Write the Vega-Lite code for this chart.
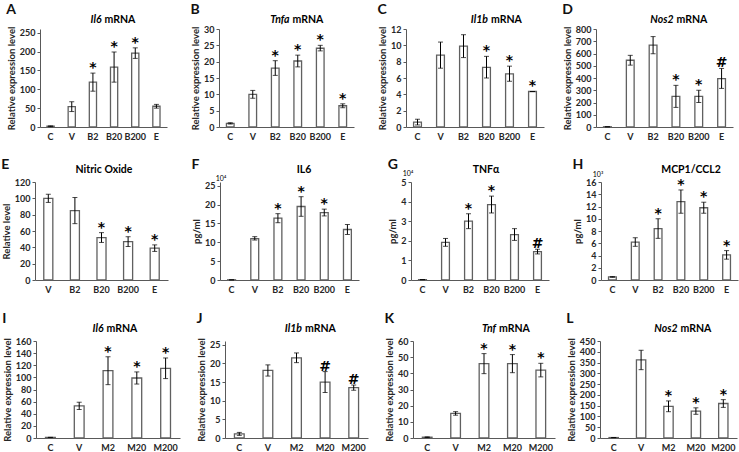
{
  "$schema": "https://vega.github.io/schema/vega-lite/v6.json",
  "padding": {"left": 1, "top": 3, "right": 1, "bottom": 1},
  "datasets": {
    "d": [
      {"p":"A","c":"C","v":2,"lo":1,"hi":3,"s":""},
      {"p":"A","c":"V","v":54,"lo":41,"hi":67,"s":""},
      {"p":"A","c":"B2","v":119,"lo":95,"hi":143,"s":"*"},
      {"p":"A","c":"B20","v":159,"lo":119,"hi":199,"s":"*"},
      {"p":"A","c":"B200","v":196,"lo":182,"hi":210,"s":"*"},
      {"p":"A","c":"E","v":55,"lo":50,"hi":60,"s":""},
      {"p":"B","c":"C","v":1.1,"lo":0.9,"hi":1.3,"s":""},
      {"p":"B","c":"V","v":10,"lo":8.8,"hi":11.2,"s":""},
      {"p":"B","c":"B2","v":18,"lo":15.8,"hi":20.3,"s":"*"},
      {"p":"B","c":"B20","v":20.2,"lo":18.4,"hi":22,"s":"*"},
      {"p":"B","c":"B200","v":24.1,"lo":23.3,"hi":25,"s":"*"},
      {"p":"B","c":"E","v":6.5,"lo":5.9,"hi":7.1,"s":"*"},
      {"p":"C","c":"C","v":0.6,"lo":0.25,"hi":0.95,"s":""},
      {"p":"C","c":"V","v":8.8,"lo":7.2,"hi":10.4,"s":""},
      {"p":"C","c":"B2","v":9.9,"lo":8.5,"hi":11.3,"s":""},
      {"p":"C","c":"B20","v":7.3,"lo":6.0,"hi":8.65,"s":"*"},
      {"p":"C","c":"B200","v":6.5,"lo":5.6,"hi":7.45,"s":"*"},
      {"p":"C","c":"E","v":4.35,"lo":4.35,"hi":4.35,"s":"*"},
      {"p":"D","c":"C","v":2,"lo":2,"hi":2,"s":""},
      {"p":"D","c":"V","v":545,"lo":505,"hi":585,"s":""},
      {"p":"D","c":"B2","v":668,"lo":598,"hi":738,"s":""},
      {"p":"D","c":"B20","v":250,"lo":160,"hi":340,"s":"*"},
      {"p":"D","c":"B200","v":250,"lo":200,"hi":300,"s":"*"},
      {"p":"D","c":"E","v":395,"lo":315,"hi":478,"s":"#"},
      {"p":"E","c":"V","v":100,"lo":95,"hi":105,"s":""},
      {"p":"E","c":"B2","v":85,"lo":69,"hi":101,"s":""},
      {"p":"E","c":"B20","v":52,"lo":46,"hi":58,"s":"*"},
      {"p":"E","c":"B200","v":47,"lo":41,"hi":53,"s":"*"},
      {"p":"E","c":"E","v":39,"lo":35,"hi":43,"s":"*"},
      {"p":"F","c":"C","v":0.05,"lo":0.05,"hi":0.05,"s":""},
      {"p":"F","c":"V","v":11,"lo":10.6,"hi":11.5,"s":""},
      {"p":"F","c":"B2","v":16.4,"lo":15.2,"hi":17.6,"s":"*"},
      {"p":"F","c":"B20","v":19.5,"lo":16.9,"hi":22.1,"s":"*"},
      {"p":"F","c":"B200","v":17.9,"lo":17.0,"hi":18.8,"s":"*"},
      {"p":"F","c":"E","v":13.4,"lo":12.1,"hi":14.7,"s":""},
      {"p":"G","c":"C","v":0.02,"lo":0.02,"hi":0.02,"s":""},
      {"p":"G","c":"V","v":1.92,"lo":1.72,"hi":2.12,"s":""},
      {"p":"G","c":"B2","v":3.0,"lo":2.62,"hi":3.38,"s":"*"},
      {"p":"G","c":"B20","v":3.85,"lo":3.42,"hi":4.28,"s":"*"},
      {"p":"G","c":"B200","v":2.32,"lo":2.02,"hi":2.62,"s":""},
      {"p":"G","c":"E","v":1.45,"lo":1.33,"hi":1.57,"s":"#"},
      {"p":"H","c":"C","v":0.5,"lo":0.45,"hi":0.55,"s":""},
      {"p":"H","c":"V","v":6.2,"lo":5.5,"hi":6.9,"s":""},
      {"p":"H","c":"B2","v":8.4,"lo":6.8,"hi":10.0,"s":"*"},
      {"p":"H","c":"B20","v":12.8,"lo":10.9,"hi":14.7,"s":"*"},
      {"p":"H","c":"B200","v":11.8,"lo":10.9,"hi":12.7,"s":"*"},
      {"p":"H","c":"E","v":4.1,"lo":3.4,"hi":4.8,"s":"*"},
      {"p":"I","c":"C","v":1,"lo":1,"hi":1,"s":""},
      {"p":"I","c":"V","v":53,"lo":47,"hi":59,"s":""},
      {"p":"I","c":"M2","v":111,"lo":88,"hi":134,"s":"*"},
      {"p":"I","c":"M20","v":99,"lo":89,"hi":109,"s":"*"},
      {"p":"I","c":"M200","v":115,"lo":98,"hi":132,"s":"*"},
      {"p":"J","c":"C","v":1.1,"lo":0.7,"hi":1.5,"s":""},
      {"p":"J","c":"V","v":18.1,"lo":16.6,"hi":19.6,"s":""},
      {"p":"J","c":"M2","v":21.5,"lo":20.2,"hi":22.8,"s":""},
      {"p":"J","c":"M20","v":15,"lo":12.2,"hi":17.8,"s":"#"},
      {"p":"J","c":"M200","v":13.5,"lo":12.8,"hi":14.2,"s":"#"},
      {"p":"K","c":"C","v":0.5,"lo":0.3,"hi":0.7,"s":""},
      {"p":"K","c":"V","v":15.2,"lo":14.1,"hi":16.3,"s":""},
      {"p":"K","c":"M2","v":46,"lo":39.8,"hi":52.2,"s":"*"},
      {"p":"K","c":"M20","v":46,"lo":40.4,"hi":51.6,"s":"*"},
      {"p":"K","c":"M200","v":42,"lo":37.8,"hi":46.2,"s":"*"},
      {"p":"L","c":"C","v":2,"lo":2,"hi":2,"s":""},
      {"p":"L","c":"V","v":362,"lo":317,"hi":407,"s":""},
      {"p":"L","c":"M2","v":147,"lo":122,"hi":172,"s":"*"},
      {"p":"L","c":"M20","v":125,"lo":110,"hi":140,"s":"*"},
      {"p":"L","c":"M200","v":160,"lo":142,"hi":178,"s":"*"}
    ]
  },
  "data": {"name": "d"},
  "center": true,
  "spacing": 18,
  "vconcat": [
    {
      "center": true,
      "spacing": 17,
      "vconcat": [
        {
          "hconcat": [
            {
              "width": 127, "height": 98,
              "title": {"text": "A", "offset": -2},
              "transform": [{"filter": "datum.p == 'A'"}],
              "encoding": {"x": {"field": "c", "type": "nominal", "sort": ["C","V","B2","B20","B200","E"], "title": null, "scale": {"paddingInner": 0.66, "paddingOuter": 0.33}}},
              "layer": [
                {"mark": {"type": "bar", "fill": "white", "stroke": "#606060", "strokeWidth": 1.3},
                 "encoding": {"y": {"field": "v", "type": "quantitative", "title": "Relative expression level", "scale": {"domain": [0, 250]}, "axis": {"values": [0,50,100,150,200,250], "labelOverlap": false}}}},
                {"mark": {"type": "errorbar", "ticks": {"size": 5}, "color": "black", "thickness": 1},
                 "encoding": {"y": {"field": "lo", "type": "quantitative", "title": "Relative expression level", "axis": {"values": [0,50,100,150,200,250], "labelOverlap": false}}, "y2": {"field": "hi"}}},
                {"mark": {"type": "text", "font": "DejaVu Sans", "fontSize": 14, "fontWeight": "bold", "baseline": "alphabetic", "dy": -1},
                 "encoding": {"y": {"field": "hi", "type": "quantitative", "title": "Relative expression level", "axis": {"values": [0,50,100,150,200,250], "labelOverlap": false}}, "text": {"field": "s"}}},
                {"data": {"values": [{}]}, "mark": {"type": "text", "text": "Il6", "fontStyle": "italic", "fontWeight": "bold", "fontSize": 10.5, "align": "right", "baseline": "middle"}, "encoding": {"x": {"value": 61.5}, "y": {"value": -9}}},
                {"data": {"values": [{}]}, "mark": {"type": "text", "text": "mRNA", "fontWeight": "bold", "fontSize": 10.5, "align": "left", "baseline": "middle", "dx": 3}, "encoding": {"x": {"value": 61.5}, "y": {"value": -9}}}
              ]
            },
            {
              "width": 135, "height": 98,
              "title": {"text": "B", "offset": -2},
              "transform": [{"filter": "datum.p == 'B'"}],
              "encoding": {"x": {"field": "c", "type": "nominal", "sort": ["C","V","B2","B20","B200","E"], "title": null, "scale": {"paddingInner": 0.66, "paddingOuter": 0.33}}},
              "layer": [
                {"mark": {"type": "bar", "fill": "white", "stroke": "#606060", "strokeWidth": 1.3},
                 "encoding": {"y": {"field": "v", "type": "quantitative", "title": "Relative expression level", "scale": {"domain": [0, 30]}, "axis": {"values": [0,5,10,15,20,25,30], "labelOverlap": false}}}},
                {"mark": {"type": "errorbar", "ticks": {"size": 5}, "color": "black", "thickness": 1},
                 "encoding": {"y": {"field": "lo", "type": "quantitative", "title": "Relative expression level", "axis": {"values": [0,5,10,15,20,25,30], "labelOverlap": false}}, "y2": {"field": "hi"}}},
                {"mark": {"type": "text", "font": "DejaVu Sans", "fontSize": 14, "fontWeight": "bold", "baseline": "alphabetic", "dy": -1},
                 "encoding": {"y": {"field": "hi", "type": "quantitative", "title": "Relative expression level", "axis": {"values": [0,5,10,15,20,25,30], "labelOverlap": false}}, "text": {"field": "s"}}},
                {"data": {"values": [{}]}, "mark": {"type": "text", "text": "Tnfa", "fontStyle": "italic", "fontWeight": "bold", "fontSize": 10.5, "align": "right", "baseline": "middle"}, "encoding": {"x": {"value": 70.5}, "y": {"value": -9}}},
                {"data": {"values": [{}]}, "mark": {"type": "text", "text": "mRNA", "fontWeight": "bold", "fontSize": 10.5, "align": "left", "baseline": "middle", "dx": 3}, "encoding": {"x": {"value": 70.5}, "y": {"value": -9}}}
              ]
            },
            {
              "width": 138, "height": 98,
              "title": {"text": "C", "offset": -2},
              "transform": [{"filter": "datum.p == 'C'"}],
              "encoding": {"x": {"field": "c", "type": "nominal", "sort": ["C","V","B2","B20","B200","E"], "title": null, "scale": {"paddingInner": 0.66, "paddingOuter": 0.33}}},
              "layer": [
                {"mark": {"type": "bar", "fill": "white", "stroke": "#606060", "strokeWidth": 1.3},
                 "encoding": {"y": {"field": "v", "type": "quantitative", "title": "Relative expression level", "scale": {"domain": [0, 12]}, "axis": {"values": [0,2,4,6,8,10,12], "labelOverlap": false}}}},
                {"mark": {"type": "errorbar", "ticks": {"size": 5}, "color": "black", "thickness": 1},
                 "encoding": {"y": {"field": "lo", "type": "quantitative", "title": "Relative expression level", "axis": {"values": [0,2,4,6,8,10,12], "labelOverlap": false}}, "y2": {"field": "hi"}}},
                {"mark": {"type": "text", "font": "DejaVu Sans", "fontSize": 14, "fontWeight": "bold", "baseline": "alphabetic", "dy": -1},
                 "encoding": {"y": {"field": "hi", "type": "quantitative", "title": "Relative expression level", "axis": {"values": [0,2,4,6,8,10,12], "labelOverlap": false}}, "text": {"field": "s"}}},
                {"data": {"values": [{}]}, "mark": {"type": "text", "text": "Il1b", "fontStyle": "italic", "fontWeight": "bold", "fontSize": 10.5, "align": "right", "baseline": "middle"}, "encoding": {"x": {"value": 82}, "y": {"value": -9}}},
                {"data": {"values": [{}]}, "mark": {"type": "text", "text": "mRNA", "fontWeight": "bold", "fontSize": 10.5, "align": "left", "baseline": "middle", "dx": 3}, "encoding": {"x": {"value": 82}, "y": {"value": -9}}}
              ]
            },
            {
              "width": 137, "height": 98,
              "title": {"text": "D", "offset": -2},
              "transform": [{"filter": "datum.p == 'D'"}],
              "encoding": {"x": {"field": "c", "type": "nominal", "sort": ["C","V","B2","B20","B200","E"], "title": null, "scale": {"paddingInner": 0.66, "paddingOuter": 0.33}}},
              "layer": [
                {"mark": {"type": "bar", "fill": "white", "stroke": "#606060", "strokeWidth": 1.3},
                 "encoding": {"y": {"field": "v", "type": "quantitative", "title": "Relative expression level", "scale": {"domain": [0, 800]}, "axis": {"values": [0,100,200,300,400,500,600,700,800], "labelOverlap": false}}}},
                {"mark": {"type": "errorbar", "ticks": {"size": 5}, "color": "black", "thickness": 1},
                 "encoding": {"y": {"field": "lo", "type": "quantitative", "title": "Relative expression level", "axis": {"values": [0,100,200,300,400,500,600,700,800], "labelOverlap": false}}, "y2": {"field": "hi"}}},
                {"mark": {"type": "text", "font": "DejaVu Sans", "fontSize": 14, "fontWeight": "bold", "baseline": "alphabetic", "dy": -1},
                 "encoding": {"y": {"field": "hi", "type": "quantitative", "title": "Relative expression level", "axis": {"values": [0,100,200,300,400,500,600,700,800], "labelOverlap": false}}, "text": {"field": "s"}}},
                {"data": {"values": [{}]}, "mark": {"type": "text", "text": "Nos2", "fontStyle": "italic", "fontWeight": "bold", "fontSize": 10.5, "align": "right", "baseline": "middle"}, "encoding": {"x": {"value": 77.5}, "y": {"value": -9}}},
                {"data": {"values": [{}]}, "mark": {"type": "text", "text": "mRNA", "fontWeight": "bold", "fontSize": 10.5, "align": "left", "baseline": "middle", "dx": 3}, "encoding": {"x": {"value": 77.5}, "y": {"value": -9}}}
              ]
            }
          ],
          "spacing": 52,
          "bounds": "flush"
        },
        {
          "hconcat": [
            {
              "width": 133, "height": 98,
              "title": {"text": "E", "offset": -7},
              "transform": [{"filter": "datum.p == 'E'"}],
              "encoding": {"x": {"field": "c", "type": "nominal", "sort": ["V","B2","B20","B200","E"], "title": null, "scale": {"paddingInner": 0.66, "paddingOuter": 0.33}}},
              "layer": [
                {"mark": {"type": "bar", "fill": "white", "stroke": "#606060", "strokeWidth": 1.3},
                 "encoding": {"y": {"field": "v", "type": "quantitative", "title": "Relative level", "scale": {"domain": [0, 120]}, "axis": {"values": [0,20,40,60,80,100,120], "labelOverlap": false}}}},
                {"mark": {"type": "errorbar", "ticks": {"size": 5}, "color": "black", "thickness": 1},
                 "encoding": {"y": {"field": "lo", "type": "quantitative", "title": "Relative level", "axis": {"values": [0,20,40,60,80,100,120], "labelOverlap": false}}, "y2": {"field": "hi"}}},
                {"mark": {"type": "text", "font": "DejaVu Sans", "fontSize": 14, "fontWeight": "bold", "baseline": "alphabetic", "dy": -1},
                 "encoding": {"y": {"field": "hi", "type": "quantitative", "title": "Relative level", "axis": {"values": [0,20,40,60,80,100,120], "labelOverlap": false}}, "text": {"field": "s"}}},
                {"data": {"values": [{}]}, "mark": {"type": "text", "text": "Nitric Oxide", "fontWeight": "bold", "fontSize": 10.5, "align": "center", "baseline": "middle"}, "encoding": {"x": {"value": 69}, "y": {"value": -12}}}
              ]
            },
            {
              "width": 139, "height": 98,
              "title": {"text": "F", "offset": -7},
              "transform": [{"filter": "datum.p == 'F'"}],
              "encoding": {"x": {"field": "c", "type": "nominal", "sort": ["C","V","B2","B20","B200","E"], "title": null, "scale": {"paddingInner": 0.66, "paddingOuter": 0.33}}},
              "layer": [
                {"mark": {"type": "bar", "fill": "white", "stroke": "#606060", "strokeWidth": 1.3},
                 "encoding": {"y": {"field": "v", "type": "quantitative", "title": "pg/ml", "scale": {"domain": [0, 25]}, "axis": {"values": [0,5,10,15,20,25], "labelOverlap": false}}}},
                {"mark": {"type": "errorbar", "ticks": {"size": 5}, "color": "black", "thickness": 1},
                 "encoding": {"y": {"field": "lo", "type": "quantitative", "title": "pg/ml", "axis": {"values": [0,5,10,15,20,25], "labelOverlap": false}}, "y2": {"field": "hi"}}},
                {"mark": {"type": "text", "font": "DejaVu Sans", "fontSize": 14, "fontWeight": "bold", "baseline": "alphabetic", "dy": -1},
                 "encoding": {"y": {"field": "hi", "type": "quantitative", "title": "pg/ml", "axis": {"values": [0,5,10,15,20,25], "labelOverlap": false}}, "text": {"field": "s"}}},
                {"data": {"values": [{}]}, "mark": {"type": "text", "text": "IL6", "fontWeight": "bold", "fontSize": 10.5, "align": "center", "baseline": "middle"}, "encoding": {"x": {"value": 84}, "y": {"value": -12}}},
                {"data": {"values": [{}]}, "mark": {"type": "text", "text": "10⁴", "fontSize": 7, "align": "center", "baseline": "middle", "dy": -7}, "encoding": {"x": {"value": 1}, "y": {"datum": 25, "type": "quantitative", "title": "pg/ml", "axis": {"values": [0,5,10,15,20,25], "labelOverlap": false}}}}
              ]
            },
            {
              "width": 138, "height": 98,
              "title": {"text": "G", "offset": -7},
              "transform": [{"filter": "datum.p == 'G'"}],
              "encoding": {"x": {"field": "c", "type": "nominal", "sort": ["C","V","B2","B20","B200","E"], "title": null, "scale": {"paddingInner": 0.66, "paddingOuter": 0.33}}},
              "layer": [
                {"mark": {"type": "bar", "fill": "white", "stroke": "#606060", "strokeWidth": 1.3},
                 "encoding": {"y": {"field": "v", "type": "quantitative", "title": "pg/ml", "scale": {"domain": [0, 5]}, "axis": {"values": [0,1,2,3,4,5], "labelOverlap": false}}}},
                {"mark": {"type": "errorbar", "ticks": {"size": 5}, "color": "black", "thickness": 1},
                 "encoding": {"y": {"field": "lo", "type": "quantitative", "title": "pg/ml", "axis": {"values": [0,1,2,3,4,5], "labelOverlap": false}}, "y2": {"field": "hi"}}},
                {"mark": {"type": "text", "font": "DejaVu Sans", "fontSize": 14, "fontWeight": "bold", "baseline": "alphabetic", "dy": -1},
                 "encoding": {"y": {"field": "hi", "type": "quantitative", "title": "pg/ml", "axis": {"values": [0,1,2,3,4,5], "labelOverlap": false}}, "text": {"field": "s"}}},
                {"data": {"values": [{}]}, "mark": {"type": "text", "text": "TNFα", "fontWeight": "bold", "fontSize": 10.5, "align": "center", "baseline": "middle"}, "encoding": {"x": {"value": 75}, "y": {"value": -12}}},
                {"data": {"values": [{}]}, "mark": {"type": "text", "text": "10⁴", "fontSize": 7, "align": "center", "baseline": "middle", "dy": -8}, "encoding": {"x": {"value": -3}, "y": {"datum": 5, "type": "quantitative", "title": "pg/ml", "axis": {"values": [0,1,2,3,4,5], "labelOverlap": false}}}}
              ]
            },
            {
              "width": 137, "height": 98,
              "title": {"text": "H", "offset": -7},
              "transform": [{"filter": "datum.p == 'H'"}],
              "encoding": {"x": {"field": "c", "type": "nominal", "sort": ["C","V","B2","B20","B200","E"], "title": null, "scale": {"paddingInner": 0.66, "paddingOuter": 0.33}}},
              "layer": [
                {"mark": {"type": "bar", "fill": "white", "stroke": "#606060", "strokeWidth": 1.3},
                 "encoding": {"y": {"field": "v", "type": "quantitative", "title": "pg/ml", "scale": {"domain": [0, 16]}, "axis": {"values": [0,2,4,6,8,10,12,14,16], "labelOverlap": false}}}},
                {"mark": {"type": "errorbar", "ticks": {"size": 5}, "color": "black", "thickness": 1},
                 "encoding": {"y": {"field": "lo", "type": "quantitative", "title": "pg/ml", "axis": {"values": [0,2,4,6,8,10,12,14,16], "labelOverlap": false}}, "y2": {"field": "hi"}}},
                {"mark": {"type": "text", "font": "DejaVu Sans", "fontSize": 14, "fontWeight": "bold", "baseline": "alphabetic", "dy": -1},
                 "encoding": {"y": {"field": "hi", "type": "quantitative", "title": "pg/ml", "axis": {"values": [0,2,4,6,8,10,12,14,16], "labelOverlap": false}}, "text": {"field": "s"}}},
                {"data": {"values": [{}]}, "mark": {"type": "text", "text": "MCP1/CCL2", "fontWeight": "bold", "fontSize": 10.5, "align": "center", "baseline": "middle"}, "encoding": {"x": {"value": 90}, "y": {"value": -12}}},
                {"data": {"values": [{}]}, "mark": {"type": "text", "text": "10³", "fontSize": 7, "align": "center", "baseline": "middle", "dy": -7}, "encoding": {"x": {"value": -3}, "y": {"datum": 16, "type": "quantitative", "title": "pg/ml", "axis": {"values": [0,2,4,6,8,10,12,14,16], "labelOverlap": false}}}}
              ]
            }
          ],
          "spacing": 52,
          "bounds": "flush"
        }
      ]
    },
    {
      "hconcat": [
        {
          "width": 144, "height": 97,
          "title": {"text": "I", "offset": -2},
          "transform": [{"filter": "datum.p == 'I'"}],
          "encoding": {"x": {"field": "c", "type": "nominal", "sort": ["C","V","M2","M20","M200"], "title": null, "scale": {"paddingInner": 0.66, "paddingOuter": 0.33}}},
          "layer": [
            {"mark": {"type": "bar", "fill": "white", "stroke": "#606060", "strokeWidth": 1.3},
             "encoding": {"y": {"field": "v", "type": "quantitative", "title": "Relative expression level", "scale": {"domain": [0, 160]}, "axis": {"values": [0,20,40,60,80,100,120,140,160], "labelOverlap": false}}}},
            {"mark": {"type": "errorbar", "ticks": {"size": 5}, "color": "black", "thickness": 1},
             "encoding": {"y": {"field": "lo", "type": "quantitative", "title": "Relative expression level", "axis": {"values": [0,20,40,60,80,100,120,140,160], "labelOverlap": false}}, "y2": {"field": "hi"}}},
            {"mark": {"type": "text", "font": "DejaVu Sans", "fontSize": 14, "fontWeight": "bold", "baseline": "alphabetic", "dy": -1},
             "encoding": {"y": {"field": "hi", "type": "quantitative", "title": "Relative expression level", "axis": {"values": [0,20,40,60,80,100,120,140,160], "labelOverlap": false}}, "text": {"field": "s"}}},
            {"data": {"values": [{}]}, "mark": {"type": "text", "text": "Il6", "fontStyle": "italic", "fontWeight": "bold", "fontSize": 10.5, "align": "right", "baseline": "middle"}, "encoding": {"x": {"value": 67.5}, "y": {"value": -12}}},
            {"data": {"values": [{}]}, "mark": {"type": "text", "text": "mRNA", "fontWeight": "bold", "fontSize": 10.5, "align": "left", "baseline": "middle", "dx": 3}, "encoding": {"x": {"value": 67.5}, "y": {"value": -12}}}
          ]
        },
        {
          "width": 143, "height": 97,
          "title": {"text": "J", "offset": -2},
          "transform": [{"filter": "datum.p == 'J'"}],
          "encoding": {"x": {"field": "c", "type": "nominal", "sort": ["C","V","M2","M20","M200"], "title": null, "scale": {"paddingInner": 0.66, "paddingOuter": 0.33}}},
          "layer": [
            {"mark": {"type": "bar", "fill": "white", "stroke": "#606060", "strokeWidth": 1.3},
             "encoding": {"y": {"field": "v", "type": "quantitative", "title": "Relative expression level", "scale": {"domain": [0, 25]}, "axis": {"values": [0,5,10,15,20,25], "labelOverlap": false}}}},
            {"mark": {"type": "errorbar", "ticks": {"size": 5}, "color": "black", "thickness": 1},
             "encoding": {"y": {"field": "lo", "type": "quantitative", "title": "Relative expression level", "axis": {"values": [0,5,10,15,20,25], "labelOverlap": false}}, "y2": {"field": "hi"}}},
            {"mark": {"type": "text", "font": "DejaVu Sans", "fontSize": 14, "fontWeight": "bold", "baseline": "alphabetic", "dy": -1},
             "encoding": {"y": {"field": "hi", "type": "quantitative", "title": "Relative expression level", "axis": {"values": [0,5,10,15,20,25], "labelOverlap": false}}, "text": {"field": "s"}}},
            {"data": {"values": [{}]}, "mark": {"type": "text", "text": "Il1b", "fontStyle": "italic", "fontWeight": "bold", "fontSize": 10.5, "align": "right", "baseline": "middle"}, "encoding": {"x": {"value": 77}, "y": {"value": -12}}},
            {"data": {"values": [{}]}, "mark": {"type": "text", "text": "mRNA", "fontWeight": "bold", "fontSize": 10.5, "align": "left", "baseline": "middle", "dx": 3}, "encoding": {"x": {"value": 77}, "y": {"value": -12}}}
          ]
        },
        {
          "width": 142, "height": 97,
          "title": {"text": "K", "offset": -2},
          "transform": [{"filter": "datum.p == 'K'"}],
          "encoding": {"x": {"field": "c", "type": "nominal", "sort": ["C","V","M2","M20","M200"], "title": null, "scale": {"paddingInner": 0.66, "paddingOuter": 0.33}}},
          "layer": [
            {"mark": {"type": "bar", "fill": "white", "stroke": "#606060", "strokeWidth": 1.3},
             "encoding": {"y": {"field": "v", "type": "quantitative", "title": "Relative expression level", "scale": {"domain": [0, 60]}, "axis": {"values": [0,10,20,30,40,50,60], "labelOverlap": false}}}},
            {"mark": {"type": "errorbar", "ticks": {"size": 5}, "color": "black", "thickness": 1},
             "encoding": {"y": {"field": "lo", "type": "quantitative", "title": "Relative expression level", "axis": {"values": [0,10,20,30,40,50,60], "labelOverlap": false}}, "y2": {"field": "hi"}}},
            {"mark": {"type": "text", "font": "DejaVu Sans", "fontSize": 14, "fontWeight": "bold", "baseline": "alphabetic", "dy": -1},
             "encoding": {"y": {"field": "hi", "type": "quantitative", "title": "Relative expression level", "axis": {"values": [0,10,20,30,40,50,60], "labelOverlap": false}}, "text": {"field": "s"}}},
            {"data": {"values": [{}]}, "mark": {"type": "text", "text": "Tnf", "fontStyle": "italic", "fontWeight": "bold", "fontSize": 10.5, "align": "right", "baseline": "middle"}, "encoding": {"x": {"value": 83}, "y": {"value": -12}}},
            {"data": {"values": [{}]}, "mark": {"type": "text", "text": "mRNA", "fontWeight": "bold", "fontSize": 10.5, "align": "left", "baseline": "middle", "dx": 3}, "encoding": {"x": {"value": 83}, "y": {"value": -12}}}
          ]
        },
        {
          "width": 137, "height": 97,
          "title": {"text": "L", "offset": -2},
          "transform": [{"filter": "datum.p == 'L'"}],
          "encoding": {"x": {"field": "c", "type": "nominal", "sort": ["C","V","M2","M20","M200"], "title": null, "scale": {"paddingInner": 0.66, "paddingOuter": 0.33}}},
          "layer": [
            {"mark": {"type": "bar", "fill": "white", "stroke": "#606060", "strokeWidth": 1.3},
             "encoding": {"y": {"field": "v", "type": "quantitative", "title": "Relative expression level", "scale": {"domain": [0, 450]}, "axis": {"values": [0,50,100,150,200,250,300,350,400,450], "labelOverlap": false}}}},
            {"mark": {"type": "errorbar", "ticks": {"size": 5}, "color": "black", "thickness": 1},
             "encoding": {"y": {"field": "lo", "type": "quantitative", "title": "Relative expression level", "axis": {"values": [0,50,100,150,200,250,300,350,400,450], "labelOverlap": false}}, "y2": {"field": "hi"}}},
            {"mark": {"type": "text", "font": "DejaVu Sans", "fontSize": 14, "fontWeight": "bold", "baseline": "alphabetic", "dy": -1},
             "encoding": {"y": {"field": "hi", "type": "quantitative", "title": "Relative expression level", "axis": {"values": [0,50,100,150,200,250,300,350,400,450], "labelOverlap": false}}, "text": {"field": "s"}}},
            {"data": {"values": [{}]}, "mark": {"type": "text", "text": "Nos2", "fontStyle": "italic", "fontWeight": "bold", "fontSize": 10.5, "align": "right", "baseline": "middle"}, "encoding": {"x": {"value": 77.5}, "y": {"value": -12}}},
            {"data": {"values": [{}]}, "mark": {"type": "text", "text": "mRNA", "fontWeight": "bold", "fontSize": 10.5, "align": "left", "baseline": "middle", "dx": 3}, "encoding": {"x": {"value": 77.5}, "y": {"value": -12}}}
          ]
        }
      ],
      "spacing": 45,
      "bounds": "flush"
    }
  ],
  "config": {
    "font": "Lato",
    "view": {"stroke": null},
    "axis": {"labelFontSize": 9, "labelFontWeight": "bold", "labelColor": "#262626", "titleFontSize": 9.5, "titleFontWeight": "bold", "titleColor": "#262626", "domainColor": "#595959", "tickColor": "#595959", "grid": false, "titlePadding": 3},
    "axisX": {"ticks": false, "labelAngle": 0, "labelPadding": 5},
    "axisY": {"tickSize": 3, "labelPadding": 2},
    "title": {"fontSize": 14, "fontWeight": "bold", "anchor": "start", "frame": "bounds", "color": "#111111"}
  }
}
